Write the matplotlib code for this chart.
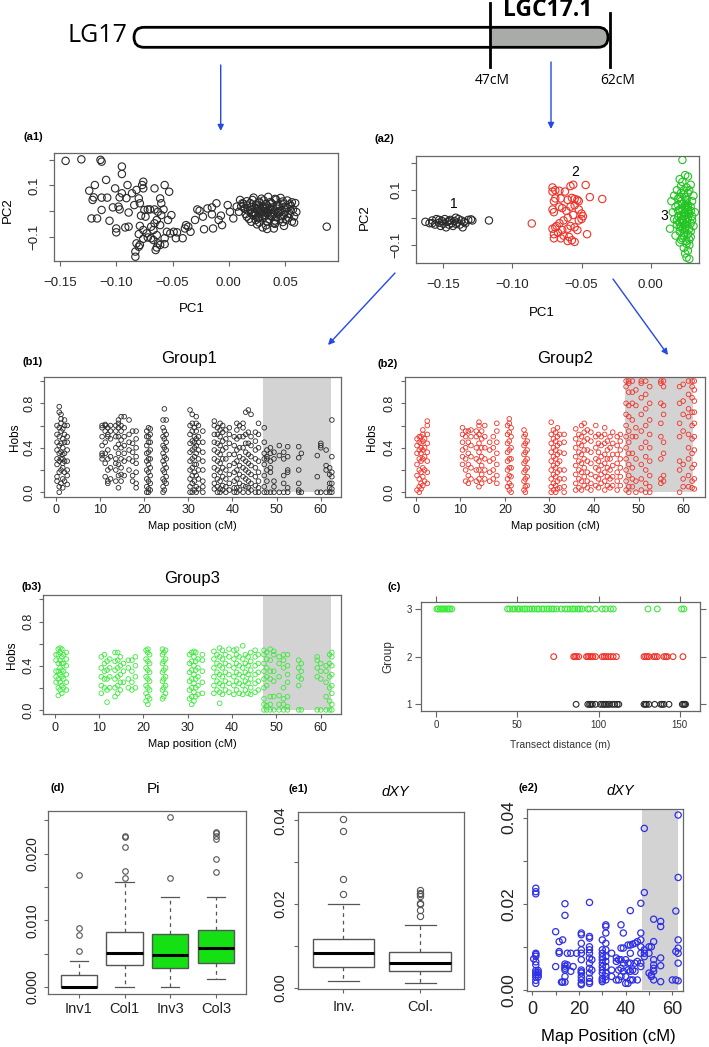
import matplotlib
matplotlib.use('Agg')
import matplotlib.pyplot as plt
from matplotlib.patches import FancyBboxPatch, Rectangle

plt.rcParams['font.family'] = ['Liberation Sans', 'DejaVu Sans']

# ---------------- DATA ----------------
LGC_START, LGC_END = 47.0, 62.3

# (a1) PCA on whole LG17
a1_pc1 = [-.145,-.131,-.114,-.113,-.095,-.095,-.109,-.119,-.124,-.12,-.121,-.122,-.117,-.113,-.108,-.113,-.106,-.101,-.103,-.098,
          -.097,-.091,-.095,-.09,-.086,-.084,-.089,-.097,-.1,-.1,-.092,-.089,-.082,-.08,-.079,-.076,-.076,-.077,-.075,-.072,
          -.074,-.078,-.079,-.076,-.073,-.08,-.076,-.082,-.08,-.083,-.083,-.079,-.072,-.069,-.067,-.064,-.069,-.066,-.061,-.064,
          -.066,-.061,-.06,-.057,-.053,-.058,-.06,-.063,-.054,-.051,-.055,-.052,-.049,-.046,-.047,-.057,-.063,-.065,-.061,-.064,
          -.057,-.067,-.07,-.066,-.039,-.038,-.034,-.03,-.028,-.026,-.023,-.022,-.019,-.015,-.015,-.014,-.011,-.009,-.007,-.006,
          -.001,.001,.004,.007,.01,.012,.014,-.041,-.036,.087,
          .022,.029,.035,.041,.046,.016,.021,.027,.031,.037,.042,.048,.052,.056,
          .013,.019,.024,.027,.033,.038,.043,.048,.054,.059,.011,.016,.02,.025,.03,.034,.039,.045,.05,.055,
          .014,.019,.023,.028,.033,.037,.043,.047,.052,.057,.009,.017,.021,.026,.031,.035,.04,.045,.05,.055,.06,
          .015,.02,.024,.029,.034,.039,.044,.049,.054,.016,.022,.027,.032,.037,.042,.047,.053,.058,
          .018,.024,.03,.036,.041,.046,.051,.02,.027,.034,.04,.048,.056,.025,.033,.041,.049,.058,.03,.04,.034,
          .025,.03,.035,.028,.032,.027,.036,.023,.038,.031,.026,.044]
a1_pc2 = [.195,.201,.199,.192,.173,.144,.121,.101,.079,.053,.043,-.029,-.029,.052,.052,.004,-.038,.088,.014,.017,
          .053,.05,.069,.101,.069,.023,-.006,.006,-.068,-.083,-.064,-.061,.082,.049,.03,.114,.088,.101,.004,.006,
          -.022,-.018,-.058,-.074,-.087,-.09,-.108,-.126,-.139,-.158,-.178,-.132,-.103,-.106,-.074,-.094,-.061,-.048,-.055,-.035,
          .088,.049,.03,.101,.075,.006,-.016,-.003,-.035,-.016,-.081,-.087,-.081,-.083,-.106,-.129,-.126,-.152,-.132,-.142,
          -.106,-.113,.006,.006,-.068,-.055,-.081,-.035,.006,.001,-.022,-.071,.01,.014,-.013,-.068,.03,-.035,-.018,-.055,
          .023,-.003,-.029,.017,.043,.03,.01,-.106,-.061,-.061,
          .052,.048,.055,.047,.051,.038,.043,.036,.041,.035,.044,.037,.041,.034,
          .028,.031,.025,.032,.027,.03,.024,.029,.026,.031,.018,.022,.015,.021,.017,.022,.014,.019,.016,.021,
          .009,.005,.011,.006,.012,.004,.009,.003,.011,.006,-.003,.001,-.004,.002,-.002,.003,-.005,.001,-.003,.002,-.004,
          -.012,-.009,-.015,-.011,-.008,-.014,-.01,-.016,-.012,-.022,-.019,-.025,-.021,-.018,-.024,-.02,-.026,-.021,
          -.031,-.035,-.029,-.033,-.037,-.03,-.034,-.042,-.045,-.04,-.047,-.043,-.041,-.052,-.056,-.05,-.058,-.045,-.064,-.068,-.07,
          .008,.0,-.005,-.003,.008,.014,.012,-.007,-.022,-.016,-.028,-.004]

# (a2) PCA on LGC17.1, three groups
a2_g1_pc1 = [-.163,-.16,-.158,-.156,-.155,-.153,-.152,-.151,-.15,-.149,-.148,-.147,-.146,-.145,-.144,-.143,-.142,
             -.141,-.14,-.139,-.138,-.137,-.136,-.135,-.134,-.132,-.13,-.129,-.117,-.158,-.153,-.146,-.141]
a2_g1_pc2 = [-.015,-.02,-.01,-.025,-.005,-.018,-.03,-.012,-.022,-.005,-.035,-.015,-.025,-.008,-.02,-.03,-.012,
             .0,-.018,-.005,-.025,-.01,-.035,-.015,-.02,-.008,-.006,-.01,-.01,-.02,-.008,-.012,-.022]
a2_g2_pc1 = [-.086,-.071,-.071,-.069,-.066,-.062,-.058,-.056,-.047,-.07,-.069,-.065,-.06,-.057,-.055,-.053,-.052,-.044,
             -.035,-.071,-.07,-.066,-.064,-.061,-.058,-.055,-.052,-.05,-.049,-.05,-.052,-.056,-.06,-.063,-.066,-.069,
             -.071,-.068,-.064,-.06,-.058,-.055,-.053,-.07,-.067,-.063,-.059,-.057,-.055,-.06,-.065,-.07,-.046]
a2_g2_pc2 = [-.021,.11,.095,.1,.098,.095,.115,.12,.119,.06,.07,.07,.065,.072,.068,.065,.06,.075,
             .068,.03,.02,.04,.035,.025,.04,.045,.03,.015,.005,-.005,-.01,.01,.0,-.01,-.02,-.035,
             -.04,-.03,-.045,-.04,-.03,-.035,-.045,-.06,-.055,-.065,-.07,-.082,-.088,-.085,-.075,-.075,-.06]
a2_g3_pc1 = [.023,.025,.027,.021,.029,.023,.026,.019,.022,.028,.031,.017,.02,.025,.03,.015,.023,.027,.018,.021,
             .026,.029,.032,.016,.024,.02,.027,.03,.017,.023,.026,.029,.019,.022,.025,.028,.031,.014,.021,.024,
             .027,.018,.029,.023,.026,.021,.028,.024,.027,.025,.026,.028,.023,.025,.022,.024,.026,.021,.027,.023,
             .025,.022,.029,.02,.026,.024,.028,.019,.03,.023,.026,.021,.027,.024,.022,.025,.029,.02,.027,.023,
             .025,.028,.024,.026,.022,.021]
a2_g3_pc2 = [.21,.155,.15,.14,.12,.13,.11,.1,.09,.1,.08,.08,.07,.075,.06,.06,.05,.045,.04,.03,
             .035,.025,.02,.02,.015,.005,.0,.005,-.005,-.01,-.015,-.02,-.025,-.03,-.035,-.04,-.03,-.04,-.05,-.055,
             -.06,-.065,-.07,-.075,-.085,-.09,-.1,-.11,-.12,-.13,-.145,-.15,-.005,.02,.06,.085,.055,-.015,-.005,.03,
             -.045,.01,.04,.045,.065,-.065,.015,-.01,-.01,-.04,.01,.075,.09,.1,-.08,.045,-.05,.025,.03,-.02,
             -.025,-.08,.005,-.095,.115,-.035]

# (b) observed heterozygosity per marker (map position, cM)
b_pos = [0.3,0.8,1.2,1.6,2.0,2.6,10.5,11.2,11.8,12.4,13.6,14.2,14.8,15.5,16.6,17.4,18.2,20.6,21.0,21.4,
         24.3,24.6,25.0,30.4,30.9,31.4,31.8,32.3,33.3,35.9,36.6,37.2,37.8,38.5,39.3,40.4,41.0,41.6,42.4,43.0,
         43.6,44.2,45.2,45.9,47.2,47.8,48.6,49.4,50.6,51.6,52.5,55.0,55.6,59.2,60.0,61.2,62.0,62.5]
hobs_g1 = [[.14,.25,.38,.45,.52,.6,.1,.3],[0,.05,.18,.28,.35,.42,.5,.58,.72,.77],[.08,.2,.3,.36,.44,.55,.62,.7,.66],
           [.04,.12,.22,.3,.4,.48,.57,.34,.26],[.1,.18,.28,.35,.45,.52,.6,.65],[.07,.15,.2,.28,.38,.45,.5,.6],
           [.3,.35,.42,.5,.58,.6,.33],[.14,.26,.35,.45,.55,.61,.6],[.08,.1,.2,.3,.38,.5,.52,.58],[.12,.22,.32,.48,.55,.6],
           [.1,.2,.3,.4,.5,.55,.6,.26],[.04,.15,.25,.35,.43,.5,.58,.65,.62],[.1,.16,.22,.3,.4,.47,.55,.6,.68],
           [.15,.28,.35,.42,.5,.58,.68],[.2,.3,.38,.45,.52,.65],[.1,.15,.28,.36,.44,.55],[.04,.08,.18,.26,.32,.4,.48,.55],
           [0,.05,.12,.2,.28,.35,.42,.5,.55],[0,.03,.1,.18,.25,.3,.36,.45,.5,.58],[.02,.08,.15,.22,.3,.38,.45,.52,.57],
           [0,.05,.12,.2,.28,.35,.42,.5,.58,.65],[.02,.1,.18,.25,.32,.4,.48,.55,.75],[.08,.14,.22,.3,.38,.45,.52,.65],
           [0,.05,.12,.2,.28,.36,.44,.52,.6,.74],[0,.08,.15,.22,.3,.38,.46,.55,.62,.7],[.02,.1,.18,.25,.32,.4,.45,.5,.58],
           [0,.05,.15,.25,.35,.42,.48,.55,.62,.68],[.03,.12,.2,.3,.38,.45,.5,.6],[0,.05,.1,.2,.28,.36,.45,.55],
           [.03,.08,.15,.22,.3,.38,.45,.52,.6,.64],[0,.05,.12,.2,.28,.36,.44,.52,.58],[0,.03,.1,.18,.26,.34,.42,.5,.56,.62],
           [.02,.06,.14,.22,.3,.38,.46,.54,.6],[0,.05,.12,.2,.3,.4,.48,.56],[.02,.08,.16,.24,.34,.44,.52,.58],
           [0,.04,.1,.18,.26,.34,.42,.5],[0,.04,.12,.2,.28,.38,.48,.56,.62],[.02,.08,.16,.24,.32,.4,.5,.6],
           [0,.06,.14,.22,.3,.4,.5,.58,.62],[.05,.12,.2,.28,.36,.44,.52,.72],[0,.04,.1,.18,.26,.34,.44,.54,.74],
           [.02,.08,.16,.24,.32,.42,.5,.7],[0,.06,.14,.22,.3,.38,.46,.54],[0,.04,.1,.18,.28,.4,.52,.62],
           [0,.05,.15,.25,.3,.35,.45,.58],[0,.1,.2,.3,.32,.38],[0,.18,.22,.28,.35,.4],[0,.05,.1,.3,.36],[0,.42,.33],
           [0,.08,.15,.3,.36],[0,.04,.18,.2,.32,.41],[0,.02,.08,.2,.31,.41],[0,.35],[0,.14,.33],[0,.42,.44,.4],
           [0,.24,.38,.2],[0,.04,.08,.16,.22],[0,.03,.08,.14,.18,.32,.65]]
hobs_g2 = [[.02,.15,.25,.35,.42,.48],[.05,.12,.2,.3,.38,.45,.5,0],[.03,.08,.18,.28,.35,.44,.5,.4],
           [.06,.14,.22,.3,.38,.46,.52,.56],[.1,.2,.32,.4,.48],[.08,.18,.28,.36,.44,.52,.6,.64],
           [.25,.32,.38,.45,.52,.58],[.1,.2,.3,.4,.5,.55],[.08,.15,.25,.35,.45,.55],[.12,.22,.32,.42,.5,.56],
           [.1,.2,.3,.4,.5,.55],[.05,.12,.2,.28,.36,.44,.52,.6,.63],[.08,.16,.24,.32,.4,.48,.55],
           [.12,.2,.3,.4,.5,.6],[.1,.18,.28,.38,.45],[.12,.2,.3,.4,.5],[.08,.15,.25,.35,.45,.55,.62],
           [.05,.12,.2,.28,.36,.44,.52,.6],[.02,.08,.15,.22,.3,.38,.46,.54,.62,.66],[0,.06,.14,.22,.3,.4,.5,.58],
           [.02,.1,.18,.26,.34,.42,.5,.56],[0,.05,.12,.2,.28,.36,.44,.52],[.06,.14,.22,.3,.38,.46],
           [0,.05,.12,.2,.28,.36,.44,.52,.63],[.02,.08,.16,.24,.32,.4,.48,.56],[0,.06,.14,.22,.3,.38,.46,.54],
           [.03,.1,.18,.26,.34,.42,.5,.58],[.04,.12,.2,.28,.36,.44,.52],[0,.05,.12,.2,.35,.45,.52],
           [.02,.08,.16,.24,.32,.4,.48,.57],[.04,.12,.2,.28,.36,.44,.52],[.02,.1,.18,.26,.34,.42,.5,.6],
           [.06,.14,.22,.3,.38,.46,.54,.62],[.04,.1,.18,.28,.38,.48,.56],[.02,.08,.16,.26,.36,.46,.54],
           [.06,.14,.22,.3,.4,.5,.6],[.04,.12,.2,.28,.36,.44,.52],[.08,.16,.24,.32,.42,.5],
           [.02,.1,.18,.26,.34,.44,.52,.58],[.06,.14,.22,.3,.38,.46],[.04,.12,.2,.3,.4,.5],[.06,.14,.24,.34,.44,.54],
           [.02,.1,.18,.26,.34,.42,.5],[.06,.14,.22,.3,.38,.46,.52],
           [.02,.1,.2,.3,.4,.5,.6,.7,.8,.95,1],[0,.05,.15,.25,.35,.45,.55,.68,.78,.9,.98,1],
           [.05,.12,.22,.35,.5,.65,.8,.9,1],[0,.1,.3,.5,.58,.78,.92],[.02,.12,.25,.4,.55,.7,.85,.98,1],
           [0,.08,.2,.32,.45,.6,.75,.88,1],[0,.05,.15,.28,.4,.52,.65,.8,.95],[.08,.12,.3,.5,.62,.8,.98,1],
           [.1,.15,.35,.45,.7,.78,.95,1],[0,.2,.28,.5,.62,.8,.95],[.05,.12,.25,.55,.7,.82,.97],
           [.05,.15,.3,.4,.52,.68,.75,.88,1],[.04,.1,.22,.35,.48,.6,.72,.85,.95,1],[.03,.12,.25,.38,.5,.62,.72,.82,.92,1]]
hobs_g3 = [[.25,.3,.35,.45,.5],[.13,.2,.28,.35,.42,.5,.55],[.18,.25,.32,.38,.45,.52,.56],[.15,.22,.3,.36,.42,.48,.55],
           [.2,.28,.35,.42,.5],[.18,.25,.32,.4,.46,.52],[.15,.22,.3,.38,.48],[.2,.28,.35,.42,.5],[.07,.18,.28,.36,.44],
           [.2,.3,.38,.46],[.12,.2,.28,.36,.44,.52],[.15,.22,.3,.38,.45,.52],[.18,.25,.32,.4,.48],[.25,.35,.42],
           [.2,.28,.38,.45],[.18,.25,.35,.45],[.2,.3,.4,.48],[.08,.15,.22,.3,.38,.46,.54],[.05,.12,.2,.28,.36,.44,.52,.55],
           [.1,.18,.26,.34,.42,.5],[.1,.18,.26,.34,.42,.5,.55],[.12,.2,.28,.36,.44,.52],[.15,.22,.3,.38,.46,.54],
           [.1,.18,.26,.34,.42,.5],[.05,.12,.2,.28,.36,.44,.52],[.08,.16,.24,.32,.4,.48,.53],[.12,.2,.28,.36,.44,.52],
           [.14,.22,.3,.38,.46],[.15,.25,.35,.45,.5],[.15,.22,.3,.38,.46,.53],[.18,.26,.34,.42,.5],
           [.06,.16,.24,.32,.4,.48,.56],[.14,.22,.3,.38,.46,.54],[.18,.26,.34,.42,.5],[.16,.24,.32,.4,.48,.55],
           [.14,.22,.3,.38,.46,.54],[.18,.26,.34,.42,.5,.55],[.15,.24,.32,.4,.48],[.14,.22,.3,.38,.46,.58],
           [.18,.26,.34,.42,.5],[.15,.24,.32,.4,.48],[.14,.2,.28,.36,.44,.52],[.16,.24,.32,.4,.48,.54],[.18,.26,.34,.42,.5],
           [0,.05,.1,.2,.28,.35,.42,.5,.54],[0,.04,.22,.3,.38,.46,.52],[0,.05,.12,.28,.35,.45,.55],[0,.12,.26,.35,.5,.53],
           [0,.05,.13,.3,.42,.48],[0,.05,.1,.2,.38,.45,.5],[0,.03,.12,.25,.32,.4,.5],[0,.22,.3,.38,.45],[0,.28,.35,.42],
           [0,.3,.38,.45,.48],[0,.28,.35,.42],[0,.12,.25,.35,.4],[0,.08,.2,.3,.42,.5],[0,.05,.15,.22,.32,.4,.48,.52]]

# (c) group membership along the transect (m)
c_g3 = [0.5,1.4,2.6,3.3,4.6,5.4,6.7,7.5,8.4,9.6,44,45.3,47.1,48.4,50.2,51.3,53.1,54.6,55.8,57.6,59.1,60.4,
        62.2,63.3,65.1,66.4,68.2,69.6,71.1,72.4,74.2,77.1,79.3,80.8,82.6,84.1,85.3,87.2,88.4,89.9,
        93.4,94.6,98.1,102.3,104.3,107.4,109.1,130.5,136.2,151.2,152.6]
c_g2 = [72.4,84.7,85.5,86.5,87.8,92.6,93.5,94.5,95.5,96.5,98.1,102.3,103.5,104.6,106,107.5,109,111,
        128,129,130,131,134,135,136.2,140.3,141.5,142.4,145.9,152]
c_g1 = [86.2,93.4,94.5,95.3,96.2,98.1,101.2,102.5,103.6,104.5,105.8,106.7,108.4,110,111.5,112.5,
        128,128.8,129.5,131,134.6,138.3,139.2,140.3,143.4,151.6,152.4,153.1,153.6]

# (d) nucleotide diversity boxplots
d_labels = ['Inv1', 'Col1', 'Inv3', 'Col3']
d_whislo = [0.0, 0.0, 0.0, 0.00125]
d_q1 = [0.0, 0.00325, 0.0029, 0.00355]
d_med = [0.0, 0.0051, 0.00475, 0.0058]
d_q3 = [0.00175, 0.0083, 0.0079, 0.00855]
d_whishi = [0.00395, 0.01575, 0.01355, 0.01355]
d_fliers = [[0.00545, 0.00775, 0.0088, 0.01675],
            [0.0163, 0.01745, 0.02105, 0.02245, 0.0226],
            [0.0163, 0.02545],
            [0.0173, 0.01925, 0.02225, 0.02265, 0.02305, 0.0233]]
d_colors = ['white', 'white', '#14E014', '#14E014']

# (e1) dXY boxplots
e1_labels = ['Inv.', 'Col.']
e1_whislo = [0.00167, 0.00112]
e1_q1 = [0.00494, 0.0039]
e1_med = [0.00837, 0.00582]
e1_q3 = [0.01155, 0.00853]
e1_whishi = [0.02008, 0.01498]
e1_fliers = [[0.02247, 0.02606, 0.03745, 0.04032],
             [0.01721, 0.01857, 0.02, 0.02032, 0.022, 0.02239, 0.02271, 0.02335]]

# (e2) dXY along map
e2_pos = [0.6, 1.5, 2.5, 10, 11.5, 12.5, 13, 14, 15, 16.5, 17.5, 19, 21, 24.5, 25.5, 30, 31.5, 34, 36, 37, 38, 39,
          40, 41, 42, 43, 44, 45, 46.5, 48, 50, 51, 52, 55, 60, 61.5, 62.5]
e2_vals = [[.0072],
           [.0236,.0228,.0223,.0085,.0082,.0078,.0065,.0058,.0045,.004,.0035,.003,.0022,.0015],
           [.0045,.004,.0035,.003], [.0135,.0054], [.0112,.0085,.0089], [.0018], [.0116,.0018],
           [.02,.0173,.006,.0055,.005,.0046,.0031,.0018], [.0085,.0058], [.0085,.0043], [.0054], [.0085],
           [.0132,.0128,.0108,.0093,.0085,.007,.0046,.0042,.0039,.0031,.0023,.0015,.0012],
           [.0203,.0124,.012,.01,.0093,.0085,.0074,.0062,.005,.0039,.0027,.0019,.0015], [.007,.0046],
           [.0116,.0093,.0085,.0077,.007,.0062,.0054,.0046,.0039,.0027,.0023,.0019],
           [.0151,.0147,.0132,.0108,.0093,.0077,.0066,.0054,.0039,.0031,.0023],
           [.0085,.0046,.0031], [.0074,.0066,.0023], [.007,.0046,.0023], [.0151,.0097,.007,.005,.0031],
           [.0132,.0097,.0062,.0043], [.007,.0031,.0015], [.0104,.0062,.0046,.0015],
           [.0184,.0104,.0085,.0062,.0043,.0023], [.0106,.0046,.0023], [.0108,.0062,.0043], [.0112,.0066,.0023],
           [.0201,.0132,.0116,.01,.0085,.0062,.0054], [.0375,.0226,.0093,.0085,.0077], [.0085,.01,.0039],
           [.01,.0035,.0031], [.0164,.0112,.007,.0058,.005,.0043,.0023], [.0159,.0147,.0074,.0056,.0019],
           [.0023], [.0183,.0089,.0023], [.0406,.0261,.0116,.0097,.0085,.0062,.0021]]

# ---------------- STYLE ----------------
W, H = 709, 1047
BLACK = '#2a2a2a'
RED = '#F03228'
GREEN_A = '#22C422'
GREEN_B = '#3BEA3B'
BLUE = '#2f2fe6'
ARROW = '#2448E8'
SHADE = '#D3D3D3'
FRAME = '#666666'

fig = plt.figure(figsize=(W / 100, H / 100), dpi=100)


def pbox(l, t, r, b):
    return [l / W, 1 - b / H, (r - l) / W, (b - t) / H]


def style(ax, xt, xl, yt, yl, fs, xpad, ypad, tl=3.2, yfs=None):
    ax.set_xticks(xt)
    ax.set_xticklabels(xl)
    ax.set_yticks(yt)
    ax.set_yticklabels(yl, rotation=90, va='center')
    for s in ax.spines.values():
        s.set_color(FRAME)
        s.set_linewidth(0.9)
    ax.tick_params(direction='out', length=tl, width=0.8, color=FRAME, labelcolor='#222222')
    ax.tick_params(axis='x', labelsize=fs, pad=xpad)
    ax.tick_params(axis='y', labelsize=yfs or fs, pad=ypad)


def flat(pos, vals):
    xs, ys = [], []
    for p, vv in zip(pos, vals):
        for v in vv:
            xs.append(p)
            ys.append(v)
    return xs, ys


# (a1)
a1 = fig.add_axes(pbox(54, 153, 338, 261))
a1.scatter(a1_pc1, a1_pc2, s=28, facecolors='none', edgecolors=BLACK, linewidths=0.8)
a1.set_xlim(-0.1553, 0.097)
a1.set_ylim(-0.1946, 0.2257)
style(a1, [-0.15, -0.10, -0.05, 0.0, 0.05], ['\u22120.15', '\u22120.10', '\u22120.05', '0.00', '0.05'],
      [-0.1, 0.0, 0.1, 0.2], ['\u22120.1', '', '0.1', ''], 9.5, 8, 6, tl=3.6)

# (a2)
a2 = fig.add_axes(pbox(415.7, 156, 699, 263.3))
a2.scatter(a2_g1_pc1, a2_g1_pc2, s=28, facecolors='none', edgecolors=BLACK, linewidths=0.8)
a2.scatter(a2_g2_pc1, a2_g2_pc2, s=28, facecolors='none', edgecolors=RED, linewidths=0.8)
a2.scatter(a2_g3_pc1, a2_g3_pc2, s=28, facecolors='none', edgecolors=GREEN_A, linewidths=0.8)
a2.set_xlim(-0.170, 0.035)
a2.set_ylim(-0.1658, 0.2244)
style(a2, [-0.15, -0.10, -0.05, 0.0], ['\u22120.15', '\u22120.10', '\u22120.05', '0.00'],
      [-0.1, 0.0, 0.1, 0.2], ['\u22120.1', '', '0.1', ''], 9.5, 8, 6, tl=3.6)
a2.text(-0.1425, 0.05, '1', fontsize=10, ha='center', va='center')
a2.text(-0.0545, 0.165, '2', fontsize=10, ha='center', va='center')
a2.text(0.0100, 0.005, '3', fontsize=10, ha='center', va='center')

# (b1)(b2)(b3)
b_specs = [((44.3, 376.6, 340.7, 496.7), hobs_g1, BLACK, (-2.58, 64.5)),
           ((405, 376.6, 705, 496.7), hobs_g2, RED, (-2.4, 64.9)),
           ((43.3, 595, 340.7, 714.3), hobs_g3, GREEN_B, (-2.58, 64.5))]
for rect, vals, col, xl in b_specs:
    ax = fig.add_axes(pbox(*rect))
    ax.add_patch(Rectangle((LGC_START, 0), LGC_END - LGC_START, 1.2, facecolor=SHADE, edgecolor='none', zorder=0))
    xs, ys = flat(b_pos, vals)
    ax.scatter(xs, ys, s=11, facecolors='none', edgecolors=col, linewidths=0.6, zorder=2)
    ax.set_xlim(*xl)
    ax.set_ylim(-0.04, 1.04)
    style(ax, [0, 10, 20, 30, 40, 50, 60], ['0', '10', '20', '30', '40', '50', '60'],
          [0, 0.2, 0.4, 0.6, 0.8, 1.0], ['0.0', '', '0.4', '', '0.8', ''], 9, 2.5, 3.5, tl=3.1)

# (c) lattice-style
c = fig.add_axes(pbox(420.7, 602.3, 700, 711))
c.scatter(c_g3, [3] * len(c_g3), s=17, facecolors='none', edgecolors=GREEN_B, linewidths=0.8)
c.scatter(c_g2, [2] * len(c_g2), s=17, facecolors='none', edgecolors=RED, linewidths=0.8)
c.scatter(c_g1, [1] * len(c_g1), s=17, facecolors='none', edgecolors=BLACK, linewidths=0.8)
c.set_xlim(-9.5, 162.5)
c.set_ylim(0.86, 3.14)
c.set_xticks([0, 50, 100, 150])
c.set_yticks([1, 2, 3])
for s in c.spines.values():
    s.set_color(FRAME)
    s.set_linewidth(0.9)
c.tick_params(direction='out', length=4, width=0.8, color=FRAME, labelcolor='#333333', labelsize=7,
              top=True, right=True, labeltop=False, labelright=False, pad=2.5)

# (d)
d = fig.add_axes(pbox(48.3, 810.7, 246, 994))
d_stats = [dict(med=m, q1=q1, q3=q3, whislo=lo, whishi=hi, fliers=f, label=lab)
           for m, q1, q3, lo, hi, f, lab in zip(d_med, d_q1, d_q3, d_whislo, d_whishi, d_fliers, d_labels)]
bp = d.bxp(d_stats, positions=[1, 2, 3, 4], widths=0.8, capwidths=0.4, patch_artist=True,
           boxprops=dict(edgecolor='#555555', linewidth=1.0),
           medianprops=dict(color='black', linewidth=2.2),
           whiskerprops=dict(color='#555555', linewidth=0.9, linestyle=(0, (3, 3))),
           capprops=dict(color='#555555', linewidth=0.9),
           flierprops=dict(marker='o', markerfacecolor='none', markeredgecolor='#555555', markersize=4, markeredgewidth=0.8))
for patch, col in zip(bp['boxes'], d_colors):
    patch.set_facecolor(col)
d.set_xlim(0.33, 4.66)
d.set_ylim(-0.00105, 0.02645)
style(d, [1, 2, 3, 4], d_labels, [0, 0.005, 0.01, 0.015, 0.02, 0.025],
      ['0.000', '', '0.010', '', '0.020', ''], 10.5, 3, 3.5, tl=3.0, yfs=10)

# (e1)
e1 = fig.add_axes(pbox(298.3, 811.7, 464, 989.3))
e1_stats = [dict(med=m, q1=q1, q3=q3, whislo=lo, whishi=hi, fliers=f, label=lab)
            for m, q1, q3, lo, hi, f, lab in zip(e1_med, e1_q1, e1_q3, e1_whislo, e1_whishi, e1_fliers, e1_labels)]
bp = e1.bxp(e1_stats, positions=[1, 2], widths=0.8, capwidths=0.4, patch_artist=True,
            boxprops=dict(edgecolor='#555555', facecolor='white', linewidth=1.0),
            medianprops=dict(color='black', linewidth=2.2),
            whiskerprops=dict(color='#555555', linewidth=0.9, linestyle=(0, (3, 3))),
            capprops=dict(color='#555555', linewidth=0.9),
            flierprops=dict(marker='o', markerfacecolor='none', markeredgecolor='#555555', markersize=4.5, markeredgewidth=0.8))
e1.set_xlim(0.413, 2.57)
e1.set_ylim(-0.0004, 0.0421)
style(e1, [1, 2], e1_labels, [0, 0.01, 0.02, 0.03, 0.04], ['0.00', '', '0.02', '', '0.04'],
      10.5, 4.5, 5, tl=3.0, yfs=10.5)

# (e2)
e2 = fig.add_axes(pbox(526.7, 809, 683.3, 990.7))
e2.add_patch(Rectangle((LGC_START, 0), LGC_END - LGC_START, 0.05, facecolor=SHADE, edgecolor='none', zorder=0))
xs, ys = flat(e2_pos, e2_vals)
e2.scatter(xs, ys, s=20, facecolors='none', edgecolors=BLUE, linewidths=0.9, zorder=2)
e2.set_xlim(-2.4, 64.7)
e2.set_ylim(-0.0002, 0.0420)
style(e2, [0, 10, 20, 30, 40, 50, 60], ['0', '', '20', '', '40', '', '60'],
      [0, 0.01, 0.02, 0.03, 0.04], ['0.00', '', '0.02', '', '0.04'], 13, 4.5, 4.5, tl=3.0, yfs=12.5)

# ---------------- OVERLAY (diagram, arrows, titles, labels) ----------------
ov = fig.add_axes([0, 0, 1, 1], zorder=10)
ov.set_xlim(0, W)
ov.set_ylim(H, 0)
ov.axis('off')

cap = FancyBboxPatch((134, 27.3), 608 - 134, 20, boxstyle='round,pad=0,rounding_size=10',
                     facecolor='white', edgecolor='none')
ov.add_patch(cap)
gray = Rectangle((490, 20), 130, 35, facecolor='#A9ABA9', edgecolor='none')
ov.add_patch(gray)
gray.set_clip_path(cap)
ov.add_patch(FancyBboxPatch((134, 27.3), 608 - 134, 20, boxstyle='round,pad=0,rounding_size=10',
                            facecolor='none', edgecolor='black', linewidth=2.0))
ov.plot([490, 490], [3.3, 66.7], color='black', lw=2.0)
ov.plot([610, 610], [13.3, 66.7], color='black', lw=2.0)
ov.text(97, 35, 'LG17', fontsize=18, family=['Open Sans', 'DejaVu Sans'], ha='center', va='center')
ov.text(548, 10, 'LGC17.1', fontsize=16.5, fontweight='bold', family=['Open Sans', 'DejaVu Sans'],
        ha='center', va='center')
ov.text(492, 81, '47cM', fontsize=10, family=['Open Sans', 'DejaVu Sans'], ha='center', va='center')
ov.text(618, 81, '62cM', fontsize=10, family=['Open Sans', 'DejaVu Sans'], ha='center', va='center')

arrow_kw = dict(arrowstyle='-|>', color=ARROW, lw=1.0, mutation_scale=9, shrinkA=0, shrinkB=0)
ov.annotate('', xy=(220.7, 131), xytext=(220.7, 65), arrowprops=arrow_kw)
ov.annotate('', xy=(551, 129), xytext=(551, 62), arrowprops=arrow_kw)
ov.annotate('', xy=(328, 345), xytext=(395, 273), arrowprops=arrow_kw)
ov.annotate('', xy=(668, 355), xytext=(613, 279), arrowprops=arrow_kw)

# panel labels
for txt, x, y in [('(a1)', 33, 137), ('(a2)', 384, 139), ('(b1)', 33, 362), ('(b2)', 388, 364),
                  ('(b3)', 32, 587), ('(c)', 394, 587), ('(d)', 58, 788), ('(e1)', 298, 789), ('(e2)', 528, 788)]:
    ov.text(x, y, txt, fontsize=8, fontweight='bold', ha='center', va='center')

# titles
ov.text(189, 359, 'Group1', fontsize=12, ha='center', va='center')
ov.text(565, 359, 'Group2', fontsize=12, ha='center', va='center')
ov.text(192, 579, 'Group3', fontsize=12, ha='center', va='center')
ov.text(154, 789, 'Pi', fontsize=11, ha='center', va='center')
ov.text(395, 792, 'dXY', fontsize=10.5, style='italic', ha='center', va='center')
ov.text(620, 791, 'dXY', fontsize=10.5, style='italic', ha='center', va='center')

# axis labels
ov.text(192, 309, 'PC1', fontsize=9.5, ha='center', va='center')
ov.text(8, 210, 'PC2', fontsize=9.5, ha='center', va='center', rotation=90)
ov.text(542, 313, 'PC1', fontsize=9.5, ha='center', va='center')
ov.text(365, 217, 'PC2', fontsize=9.5, ha='center', va='center', rotation=90)
ov.text(15, 437, 'Hobs', fontsize=8.5, ha='center', va='center', rotation=90)
ov.text(372, 437, 'Hobs', fontsize=8.5, ha='center', va='center', rotation=90)
ov.text(12, 655, 'Hobs', fontsize=8.5, ha='center', va='center', rotation=90)
ov.text(192, 526, 'Map position (cM)', fontsize=8, ha='center', va='center')
ov.text(555, 526, 'Map position (cM)', fontsize=8, ha='center', va='center')
ov.text(192, 744, 'Map position (cM)', fontsize=8, ha='center', va='center')
ov.text(388, 657, 'Group', fontsize=8.5, ha='center', va='center', rotation=90, color='#333333')
ov.text(560, 745, 'Transect distance (m)', fontsize=7.5, ha='center', va='center', color='#333333')
ov.text(608, 1036, 'Map Position (cM)', fontsize=12, ha='center', va='center')

fig.savefig('out.png', dpi=100)
